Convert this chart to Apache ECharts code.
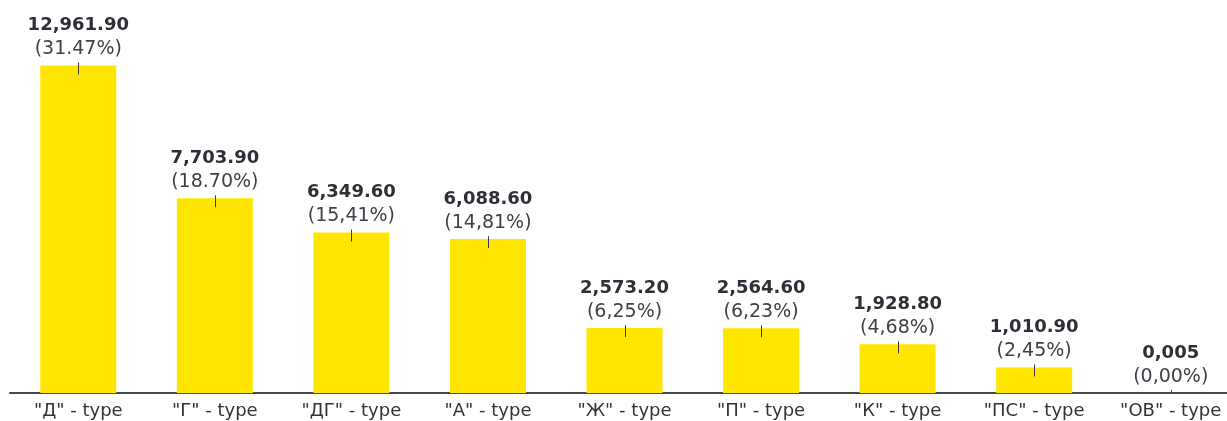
<!DOCTYPE html>
<html>
<head>
<meta charset="utf-8">
<script src="https://cdn.jsdelivr.net/npm/echarts@6/dist/echarts.min.js"></script>
<style>
  html, body { margin: 0; padding: 0; background: #ffffff; }
  #chart { width: 1227px; height: 421px; }
</style>
</head>
<body>
<div id="chart"></div>
<script>
// Categories along the x axis
const categories = ['"Д" - type', '"Г" - type', '"ДГ" - type', '"А" - type', '"Ж" - type', '"П" - type', '"К" - type', '"ПС" - type', '"ОВ" - type'];
// Bar values
const values = [12961.9, 7703.9, 6349.6, 6088.6, 2573.2, 2564.6, 1928.8, 1010.9, 0.005];
// Value text shown above each bar
const valueLabels = ['12,961.90', '7,703.90', '6,349.60', '6,088.60', '2,573.20', '2,564.60', '1,928.80', '1,010.90', '0,005'];
// Share text shown under each value
const shareLabels = ['(31.47%)', '(18.70%)', '(15,41%)', '(14,81%)', '(6,25%)', '(6,23%)', '(4,68%)', '(2,45%)', '(0,00%)'];

const FONT = 'DejaVu Sans';
const chart = echarts.init(document.getElementById('chart'), null, { renderer: 'canvas' });

chart.setOption({
  animation: false,
  backgroundColor: '#ffffff',
  // the plot runs a little past the right edge of the canvas
  grid: { left: 10, right: -12, top: 0, bottom: 28, containLabel: false, outerBoundsMode: 'none' },
  xAxis: {
    type: 'category',
    data: categories,
    axisLine: { show: true, lineStyle: { color: '#4a4a4a', width: 2 } },
    axisTick: { show: false },
    axisLabel: { color: '#333333', fontFamily: FONT, fontSize: 18, margin: 9 }
  },
  yAxis: {
    type: 'value',
    min: 0,
    max: 15550,
    show: false,
    splitLine: { show: false }
  },
  series: [
    {
      type: 'bar',
      data: values,
      barWidth: 76,
      itemStyle: { color: '#FFE600' },
      label: {
        show: true,
        position: 'top',
        distance: 4,
        formatter: (p) => '{v|' + valueLabels[p.dataIndex] + '}\n{p|' + shareLabels[p.dataIndex] + '}',
        rich: {
          v: { fontFamily: FONT, fontSize: 18, fontWeight: 'bold', color: '#2e2e38', lineHeight: 24 },
          p: { fontFamily: FONT, fontSize: 19, color: '#404048', lineHeight: 24 }
        }
      },
      z: 2
    },
    {
      // short marker line crossing the top edge of each bar
      type: 'custom',
      coordinateSystem: 'cartesian2d',
      clip: true,
      data: values.map((v, i) => [i, v]),
      renderItem: (params, api) => {
        const top = api.coord([api.value(0), api.value(1)]);
        const base = api.coord([api.value(0), 0]);
        const y1 = top[1] - 3;
        const y2 = Math.min(top[1] + 9, base[1] - 1);
        const x = Math.round(top[0]) + 0.5;
        return {
          type: 'line',
          shape: { x1: x, y1: y1, x2: x, y2: y2 },
          style: { stroke: '#3a3a3a', lineWidth: 1 }
        };
      },
      z: 3
    }
  ]
});
</script>
</body>
</html>
